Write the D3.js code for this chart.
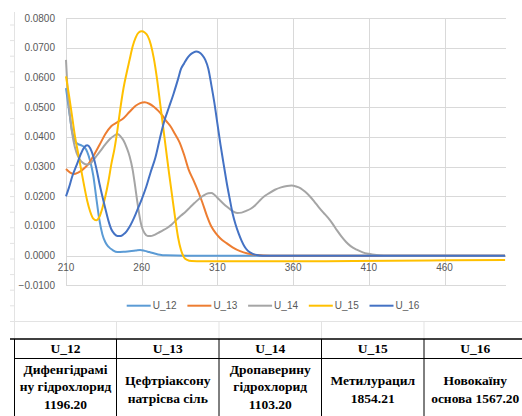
<!DOCTYPE html>
<html>
<head>
<meta charset="utf-8">
<script src="https://cdn.jsdelivr.net/npm/d3@7"></script>
<style>
  html, body { margin: 0; padding: 0; background: #fff; }
  svg { display: block; }
</style>
</head>
<body>
<svg id="chart" width="522" height="416"></svg>
<script>
// Absorbance spectra, wavelength (nm) vs value
const seriesNames = ["U_12", "U_13", "U_14", "U_15", "U_16"];
const seriesColors = ["#5B9BD5", "#ED7D31", "#A5A5A5", "#FFC000", "#4472C4"];

const u12 = [[210,0.0565],[212,0.049],[214,0.042],[216,0.0385],[218,0.0376],[220,0.0372],[222,0.0366],[224,0.0350],[226,0.0318],[228,0.0270],[230,0.0195],[232,0.0122],[234,0.0072],[236,0.0045],[238,0.0030],[241,0.0018],[244,0.0012],[248,0.0013],[252,0.0015],[256,0.0017],[259,0.0019],[262,0.0016],[265,0.0012],[268,0.0008],[272,0.0003],[276,0.0001],[290,0.0],[340,0.0],[420,0.0],[500,0.0]];

const u13 = [[210,0.0292],[213,0.0279],[215,0.0275],[218,0.0280],[221,0.0290],[225,0.0310],[228,0.0335],[232,0.0372],[236,0.0410],[240,0.0437],[244,0.0450],[248,0.0463],[252,0.0485],[256,0.0505],[259,0.0514],[262,0.0517],[265,0.0512],[268,0.0502],[271,0.0488],[274,0.0470],[276,0.0455],[279,0.0436],[282,0.0410],[285,0.0382],[288,0.0340],[291,0.0290],[294,0.0256],[297,0.0220],[300,0.0180],[303,0.0135],[306,0.0098],[309,0.0075],[312,0.0058],[316,0.0042],[320,0.0028],[325,0.0015],[330,0.0007],[336,0.0002],[345,0.0],[420,0.0],[500,0.0]];

const u14 = [[210,0.0660],[211,0.0560],[212.6,0.0470],[214.8,0.0390],[217,0.0346],[219,0.0325],[221.4,0.0312],[224,0.0307],[226,0.0310],[228,0.0322],[230,0.0335],[233,0.0355],[236,0.0375],[239,0.0393],[242,0.0405],[244,0.0410],[246,0.0402],[248,0.0388],[250,0.0365],[252,0.0335],[254,0.0290],[255.5,0.0240],[257,0.0185],[258.5,0.0135],[260,0.0098],[262,0.0075],[264,0.0066],[266,0.0066],[268,0.0069],[271,0.0077],[274,0.0085],[277,0.0094],[280,0.0106],[283,0.0121],[286,0.0135],[289,0.0148],[292,0.0163],[295,0.0178],[298,0.0192],[301,0.0203],[304,0.0210],[306,0.0211],[308,0.0205],[311,0.0190],[314,0.0175],[317,0.0162],[320,0.0150],[323,0.0144],[326,0.0145],[329,0.0151],[332,0.0158],[335,0.0170],[338,0.0186],[341,0.0200],[344,0.0210],[348,0.0222],[352,0.0230],[356,0.0235],[359,0.0236],[362,0.0233],[365,0.0227],[368,0.0215],[371,0.0200],[374,0.0182],[377,0.0163],[380,0.0145],[383,0.0128],[386,0.0108],[389,0.0085],[392,0.0064],[395,0.0046],[398,0.0032],[402,0.0020],[406,0.0011],[410,0.0006],[415,0.0002],[420,0.0],[500,0.0]];

const u15 = [[210,0.0604],[212,0.0540],[214,0.0470],[216,0.0400],[218,0.0345],[220,0.0290],[222,0.0235],[224,0.0185],[226,0.0148],[228,0.0125],[230,0.0119],[232,0.0130],[234,0.0160],[236,0.0200],[238,0.0250],[240,0.0310],[242,0.0360],[244,0.0425],[246,0.0500],[248,0.0565],[250,0.0615],[252,0.0660],[254,0.0705],[256,0.0735],[258,0.0752],[260,0.0756],[262,0.0752],[264,0.0740],[266,0.0712],[268,0.0665],[270,0.0600],[272,0.0520],[274,0.0440],[276,0.0360],[278,0.0280],[280,0.0205],[282,0.0130],[284,0.0062],[286,0.0018],[288,-0.0006],[290,-0.0014],[293,-0.0018],[300,-0.0019],[350,-0.0019],[400,-0.0018],[450,-0.0016],[500,-0.0015]];

const u16 = [[210,0.0200],[212,0.0230],[214,0.0265],[217,0.0305],[220,0.0345],[222,0.0365],[224,0.0372],[226,0.0362],[228,0.0335],[230,0.0295],[232,0.0245],[234,0.0200],[236,0.0158],[238,0.0118],[240,0.0088],[242,0.0073],[244,0.0066],[246,0.0066],[248,0.0072],[250,0.0082],[252,0.0097],[254,0.0117],[256,0.0140],[258,0.0165],[260,0.0190],[263,0.0232],[266,0.0283],[269,0.0330],[272,0.0395],[275,0.0455],[278,0.0500],[281,0.0545],[284,0.0595],[286,0.0630],[288,0.0648],[290,0.0665],[292,0.0677],[294,0.0684],[296,0.0688],[298,0.0685],[300,0.0676],[302,0.0660],[304,0.0630],[306,0.0575],[308,0.0515],[310,0.0445],[312,0.0375],[314,0.0312],[316,0.0250],[318,0.0195],[320,0.0143],[322,0.0105],[324,0.0075],[326,0.0050],[328,0.0030],[330,0.0017],[333,0.0007],[336,0.0002],[340,0.0],[420,0.0],[500,0.0]];

const seriesData = [u12, u13, u14, u15, u16];

const xTicks = [210, 260, 310, 360, 410, 460];
const yTicks = [-0.01, 0, 0.01, 0.02, 0.03, 0.04, 0.05, 0.06, 0.07, 0.08];

// Table beneath the chart
const tableHeaders = ["U_12", "U_13", "U_14", "U_15", "U_16"];
const tableCells = [
  ["Дифенгідрамі", "ну гідрохлорид", "1196.20"],
  ["Цефтріаксону", "натрісва сіль"],
  ["Дропаверину", "гідрохлорид", "1103.20"],
  ["Метилурацил", "1854.21"],
  ["Новокаїну", "основа 1567.20"]
];

const svg = d3.select("#chart");
const gridColor = "#d9d9d9";
const sheetColor = "#e3e3e3";

// Worksheet grid around the embedded chart
const sheet = svg.append("g");
const rowLines = d3.range(19).map(i => 25 + i * 15.6);
sheet.selectAll("line.row").data(rowLines).join("line")
  .attr("x1", 10).attr("x2", 14).attr("y1", d => d).attr("y2", d => d)
  .attr("stroke", sheetColor).attr("stroke-width", 1);
sheet.append("line").attr("x1", 10).attr("x2", 522).attr("y1", 321.5).attr("y2", 321.5)
  .attr("stroke", sheetColor).attr("stroke-width", 1);
sheet.append("line").attr("x1", 14.5).attr("x2", 14.5).attr("y1", 12).attr("y2", 339)
  .attr("stroke", sheetColor).attr("stroke-width", 1);
const colLines = [116.5, 219, 321.5, 424];
sheet.selectAll("line.col").data(colLines).join("line")
  .attr("x1", d => d).attr("x2", d => d).attr("y1", 321.5).attr("y2", 339)
  .attr("stroke", sheetColor).attr("stroke-width", 1);

// Plot area
const plot = { left: 66, right: 506, top: 18.3, bottom: 285.3 };
const x = d3.scaleLinear().domain([210, 500.6]).range([plot.left, plot.right]);
const y = d3.scaleLinear().domain([-0.01, 0.08]).range([plot.bottom, plot.top]);

const grid = svg.append("g");
grid.selectAll("line.h").data(yTicks).join("line")
  .attr("x1", plot.left).attr("x2", plot.right)
  .attr("y1", d => Math.round(y(d)) + 0.5).attr("y2", d => Math.round(y(d)) + 0.5)
  .attr("stroke", gridColor).attr("stroke-width", 1);
grid.selectAll("line.v").data(xTicks).join("line")
  .attr("x1", d => Math.round(x(d)) + 0.5).attr("x2", d => Math.round(x(d)) + 0.5)
  .attr("y1", plot.top).attr("y2", plot.bottom)
  .attr("stroke", gridColor).attr("stroke-width", 1);

// Axis labels
const fmt = d3.format(".4f");
svg.append("g").selectAll("text").data(yTicks).join("text")
  .attr("x", 55).attr("y", d => y(d))
  .attr("dy", "0.35em").attr("text-anchor", "end")
  .attr("font-family", "'Liberation Sans', Arial, sans-serif").attr("font-size", 10)
  .attr("fill", "#595959")
  .text(d => fmt(d));
svg.append("g").selectAll("text").data(xTicks).join("text")
  .attr("x", d => x(d)).attr("y", y(0) + 12)
  .attr("dy", "0.35em").attr("text-anchor", "middle")
  .attr("font-family", "'Liberation Sans', Arial, sans-serif").attr("font-size", 10)
  .attr("fill", "#595959")
  .text(d => d);

// Spectrum lines
const line = d3.line().x(d => x(d[0])).y(d => y(d[1])).curve(d3.curveMonotoneX);
svg.append("g").selectAll("path").data(seriesData).join("path")
  .attr("d", line)
  .attr("fill", "none")
  .attr("stroke", (d, i) => seriesColors[i])
  .attr("stroke-width", 2)
  .attr("stroke-linejoin", "round");

// Legend
const legend = svg.append("g").selectAll("g").data(seriesNames).join("g")
  .attr("transform", (d, i) => `translate(${126.7 + i * 60.7},305.7)`);
legend.append("line").attr("x1", 0).attr("x2", 24).attr("y1", 0).attr("y2", 0)
  .attr("stroke", (d, i) => seriesColors[i]).attr("stroke-width", 2);
legend.append("text").attr("x", 26).attr("y", 0).attr("dy", "0.35em")
  .attr("font-family", "'Liberation Sans', Arial, sans-serif").attr("font-size", 10)
  .attr("fill", "#595959").text(d => d);

// Table
const colEdges = [14.5, 116.5, 219, 321.5, 424, 526.5];
const tbl = svg.append("g");
tbl.append("line").attr("x1", 10).attr("x2", 522).attr("y1", 339).attr("y2", 339)
  .attr("stroke", "#000").attr("stroke-width", 1.5);
tbl.append("line").attr("x1", 14).attr("x2", 522).attr("y1", 358.5).attr("y2", 358.5)
  .attr("stroke", "#000").attr("stroke-width", 1);
tbl.selectAll("line.c").data(colEdges.slice(0, 5)).join("line")
  .attr("x1", d => d).attr("x2", d => d).attr("y1", 339).attr("y2", 416)
  .attr("stroke", "#000").attr("stroke-width", 1);
const serif = "'Liberation Serif', 'Times New Roman', serif";
tbl.selectAll("text.h").data(tableHeaders).join("text")
  .attr("x", (d, i) => (colEdges[i] + colEdges[i + 1]) / 2)
  .attr("y", 348).attr("dy", "0.35em").attr("text-anchor", "middle")
  .attr("font-family", serif).attr("font-weight", "bold").attr("font-size", 13.5)
  .text(d => d);
const cellGroups = tbl.selectAll("g.cell").data(tableCells).join("g");
cellGroups.each(function (lines, i) {
  const cx = (colEdges[i] + colEdges[i + 1]) / 2;
  const lh = 17.5;
  const mid = lines.length === 3 ? 386.5 : 389.5;
  d3.select(this).selectAll("text").data(lines).join("text")
    .attr("x", cx)
    .attr("y", (d, j) => mid + (j - (lines.length - 1) / 2) * lh)
    .attr("dy", "0.35em").attr("text-anchor", "middle")
    .attr("font-family", serif).attr("font-weight", "bold").attr("font-size", 13.5)
    .text(d => d);
});
</script>
</body>
</html>
